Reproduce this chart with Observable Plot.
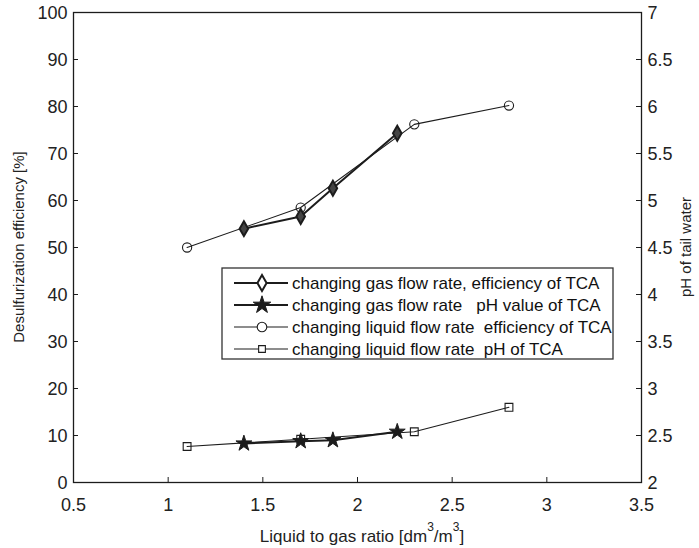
<!DOCTYPE html>
<html>
<head>
<meta charset="utf-8">
<script src="https://cdn.jsdelivr.net/npm/d3@7"></script>
<script src="https://cdn.jsdelivr.net/npm/@observablehq/plot@0.6"></script>
<style>
  body { margin: 0; background: #fff; }
  #chart svg text { white-space: pre; }
</style>
</head>
<body>
<div id="chart"></div>
<script>
// Runs where the gas flow rate was changed
const gasRatio = [1.4, 1.7, 1.87, 2.21];
const gasEfficiency = [54, 56.6, 62.6, 74.3];
const gasPH = [2.415, 2.44, 2.45, 2.54];

// Runs where the liquid flow rate was changed
const liquidRatio = [1.1, 1.7, 2.3, 2.8];
const liquidEfficiency = [50, 58.5, 76.2, 80.2];
const liquidPH = [2.383, 2.46, 2.54, 2.8];

// Axis ticks
const xTicks = [0.5, 1, 1.5, 2, 2.5, 3, 3.5];
const effTicks = [0, 10, 20, 30, 40, 50, 60, 70, 80, 90, 100];
const phTicks = [2, 2.5, 3, 3.5, 4, 4.5, 5, 5.5, 6, 6.5, 7];

const legendLabels = [
  "changing gas flow rate, efficiency of TCA",
  "changing gas flow rate   pH value of TCA",
  "changing liquid flow rate  efficiency of TCA",
  "changing liquid flow rate  pH of TCA"
];

// pH lives on the right axis; map it onto the left (efficiency) scale
const phMin = phTicks[0], phMax = phTicks[phTicks.length - 1];
const effMax = effTicks[effTicks.length - 1];
const phToEff = (p) => (p - phMin) / (phMax - phMin) * effMax;

const rows = (xs, ys) => xs.map((x, i) => ({x, y: ys[i]}));
const gasEff = rows(gasRatio, gasEfficiency);
const gasPh = rows(gasRatio, gasPH.map(phToEff));
const liqEff = rows(liquidRatio, liquidEfficiency);
const liqPh = rows(liquidRatio, liquidPH.map(phToEff));

const W = 699, H = 548;
const mL = 73, mR = 58, mT = 12, mB = 66;
const frameW = W - mL - mR, frameH = H - mT - mB;
const ink = "#1c1c1c";
const font = "'Liberation Sans', Arial, sans-serif";

const thick = 2, thin = 1.1;

const plot = Plot.plot({
  width: W,
  height: H,
  marginLeft: mL,
  marginRight: mR,
  marginTop: mT,
  marginBottom: mB,
  style: {fontFamily: font, fontSize: "18px", color: "#222", background: "#fff"},
  x: {domain: [xTicks[0], xTicks[xTicks.length - 1]]},
  y: {domain: [effTicks[0], effMax]},
  marks: [
    // inward tick marks
    Plot.ruleX(xTicks, {x: d => d, insetTop: frameH - 5, stroke: ink, strokeWidth: 1}),
    Plot.ruleY(effTicks, {y: d => d, insetRight: frameW - 5, stroke: ink, strokeWidth: 1}),
    Plot.ruleY(phTicks.map(phToEff), {y: d => d, insetLeft: frameW - 5, stroke: ink, strokeWidth: 1}),
    Plot.axisX({ticks: xTicks, tickSize: 0, tickPadding: 16, tickFormat: d => String(d), label: null, fontSize: 18}),
    Plot.axisY({ticks: effTicks, anchor: "left", tickSize: 0, tickPadding: 6, dy: 1, tickFormat: d => String(d), label: null, fontSize: 18}),
    Plot.axisY({ticks: phTicks.map(phToEff), anchor: "right", tickSize: 0, tickPadding: 6, dy: 1,
      tickFormat: (d, i) => String(phTicks[i]), label: null, fontSize: 18}),
    Plot.frame({stroke: ink, strokeWidth: 1.3}),

    // changing liquid flow rate
    Plot.line(liqEff, {x: "x", y: "y", stroke: ink, strokeWidth: thin}),
    Plot.line(liqPh, {x: "x", y: "y", stroke: ink, strokeWidth: thin}),
    Plot.dot(liqEff, {x: "x", y: "y", symbol: "circle", r: 4.6, stroke: ink, strokeWidth: thin, fill: "none"}),
    Plot.dot(liqPh, {x: "x", y: "y", symbol: "square", r: 4.4, stroke: ink, strokeWidth: thin, fill: "none"}),

    // changing gas flow rate
    Plot.line(gasEff, {x: "x", y: "y", stroke: ink, strokeWidth: thick}),
    Plot.line(gasPh, {x: "x", y: "y", stroke: ink, strokeWidth: thick}),
    Plot.dot(gasEff, {x: "x", y: "y", symbol: "diamond", r: 4.5, stroke: ink, strokeWidth: thick, fill: "#444"}),
    Plot.dot(gasPh, {x: "x", y: "y", symbol: "star", r: 5, stroke: ink, strokeWidth: 1, fill: ink})
  ]
});

document.getElementById("chart").appendChild(plot);

const svg = d3.select(plot);

// axis titles
svg.append("text")
  .attr("transform", `translate(20,${mT + frameH / 2}) rotate(-90)`)
  .attr("text-anchor", "middle")
  .attr("dominant-baseline", "middle")
  .attr("font-family", font).attr("font-size", 15).attr("fill", "#222")
  .text("Desulfurization efficiency [%]");

svg.append("text")
  .attr("transform", `translate(687,${mT + frameH / 2}) rotate(-90)`)
  .attr("text-anchor", "middle")
  .attr("dominant-baseline", "middle")
  .attr("font-family", font).attr("font-size", 15).attr("fill", "#222")
  .text("pH of tail water");

const xt = svg.append("text")
  .attr("x", 362).attr("y", 542)
  .attr("text-anchor", "middle")
  .attr("font-family", font).attr("font-size", 17).attr("fill", "#222");
xt.append("tspan").text("Liquid to gas ratio [dm");
xt.append("tspan").attr("dy", -11).attr("font-size", 12).text("3");
xt.append("tspan").attr("dy", 11).text("/m");
xt.append("tspan").attr("dy", -11).attr("font-size", 12).text("3");
xt.append("tspan").attr("dy", 11).text("]");

// legend
const lg = svg.append("g")
  .attr("font-family", font).attr("font-size", 17).attr("fill", "#111")
  .attr("text-anchor", "start");
lg.append("rect").attr("x", 222).attr("y", 268).attr("width", 391).attr("height", 91)
  .attr("fill", "#fff").attr("stroke", "#333").attr("stroke-width", 1.3);

const legendSymbols = [
  {symbol: d3.symbolDiamond, size: Math.PI * 4.8 * 4.8, width: thick, fill: "#fff", stroke: ink},
  {symbol: d3.symbolStar, size: Math.PI * 5.5 * 5.5, width: 1, fill: ink, stroke: ink},
  {symbol: d3.symbolCircle, size: Math.PI * 4.8 * 4.8, width: thin, fill: "#fff", stroke: ink},
  {symbol: d3.symbolSquare, size: Math.PI * 3.8 * 3.8, width: thin, fill: "#fff", stroke: ink}
];
const lineW = [thick, thick, thin, thin];
legendLabels.forEach((label, i) => {
  const y = 283 + i * 22;
  lg.append("line").attr("x1", 234).attr("x2", 288).attr("y1", y).attr("y2", y)
    .attr("stroke", ink).attr("stroke-width", lineW[i]);
  const s = legendSymbols[i];
  lg.append("path").attr("transform", `translate(262,${y})`)
    .attr("d", d3.symbol(s.symbol, s.size)())
    .attr("fill", s.fill).attr("stroke", s.stroke).attr("stroke-width", s.width);
  lg.append("text").attr("x", 292).attr("y", y).attr("dy", "0.35em")
    .attr("text-anchor", "start").text(label);
});
</script>
</body>
</html>
